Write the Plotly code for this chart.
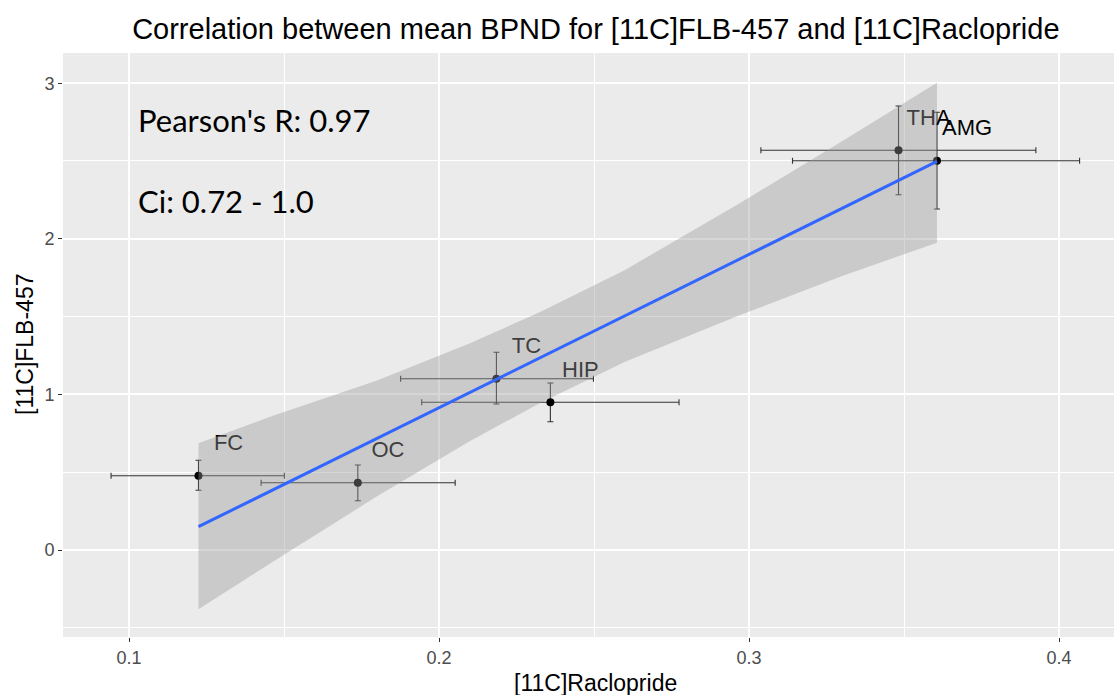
import plotly.graph_objects as go

# ---- data ----
regions = ["FC", "OC", "TC", "HIP", "THA", "AMG"]
rac_mean = [0.1224, 0.1738, 0.2185, 0.2359, 0.3482, 0.3606]
rac_low = [0.0942, 0.1426, 0.1876, 0.1944, 0.3038, 0.3140]
rac_high = [0.1501, 0.2052, 0.2498, 0.2774, 0.3925, 0.4066]
flb_mean = [0.4775, 0.4325, 1.1009, 0.9492, 2.5688, 2.5020]
flb_low = [0.3837, 0.3168, 0.9383, 0.8245, 2.2834, 2.1915]
flb_high = [0.5765, 0.5463, 1.2706, 1.0733, 2.8535, 2.8130]

fit_x = [0.1224, 0.3606]
fit_y = [0.150, 2.497]

band_x = [0.1224, 0.1455, 0.18, 0.21, 0.2326, 0.26, 0.2971, 0.33, 0.3606]
band_upper = [0.686, 0.857, 1.089, 1.328, 1.53, 1.80, 2.230, 2.627, 3.003]
band_lower = [-0.381, -0.086, 0.345, 0.700, 0.945, 1.21, 1.510, 1.761, 1.975]

label_dx = 0.0097
label_dy = 0.2

title_text = "Correlation between mean BPND for [11C]FLB-457 and [11C]Raclopride"
x_title = "[11C]Raclopride"
y_title = "[11C]FLB-457"
stat_lines = ["Pearson's R: 0.97", "Ci: 0.72 - 1.0"]

FONT = "Liberation Sans, Arial"

fig = go.Figure()

# points with error bars
fig.add_trace(go.Scatter(
    x=rac_mean, y=flb_mean, mode="markers",
    marker=dict(color="black", size=8),
    error_x=dict(type="data", symmetric=False,
                 array=[h - m for h, m in zip(rac_high, rac_mean)],
                 arrayminus=[m - l for m, l in zip(rac_mean, rac_low)],
                 color="#333333", thickness=1.1, width=3),
    error_y=dict(type="data", symmetric=False,
                 array=[h - m for h, m in zip(flb_high, flb_mean)],
                 arrayminus=[m - l for m, l in zip(flb_mean, flb_low)],
                 color="#333333", thickness=1.1, width=3),
    showlegend=False, hoverinfo="skip"))

# labels
fig.add_trace(go.Scatter(
    x=[v + label_dx for v in rac_mean], y=[v + label_dy for v in flb_mean],
    mode="text", text=regions, textposition="middle center",
    textfont=dict(family=FONT, size=22, color="black"),
    showlegend=False, hoverinfo="skip"))

# confidence ribbon
fig.add_trace(go.Scatter(
    x=band_x + band_x[::-1], y=band_upper + band_lower[::-1],
    mode="lines", fill="toself", fillcolor="rgba(153,153,153,0.4)",
    line=dict(width=0), showlegend=False, hoverinfo="skip"))

# fit line
fig.add_trace(go.Scatter(
    x=fit_x, y=fit_y, mode="lines",
    line=dict(color="#3366FF", width=3),
    showlegend=False, hoverinfo="skip"))

axis_common = dict(
    showgrid=True, gridcolor="white", gridwidth=1.6,
    zeroline=False, showline=False,
    ticks="outside", ticklen=4, tickwidth=1.1, tickcolor="#333333",
    tickfont=dict(family=FONT, size=18, color="#4D4D4D"),
)

fig.update_layout(
    width=1114, height=695,
    margin=dict(l=63, r=0, t=53, b=58),
    paper_bgcolor="white", plot_bgcolor="#EBEBEB",
    title=dict(text=title_text, x=0.507, xanchor="center", xref="paper",
               y=1 - 29 / 695, yanchor="middle", yref="container",
               font=dict(family=FONT, size=29, color="black")),
    xaxis=dict(range=[0.0787, 0.4177], tickvals=[0.1, 0.2, 0.3, 0.4],
               ticktext=["0.1", "0.2", "0.3", "0.4"], **axis_common,
               minor=dict(showgrid=True, gridcolor="white", gridwidth=0.8,
                          tickvals=[0.15, 0.25, 0.35])),
    yaxis=dict(range=[-0.559, 3.194], tickvals=[0, 1, 2, 3],
               ticktext=["0", "1", "2", "3"], **axis_common,
               minor=dict(showgrid=True, gridcolor="white", gridwidth=0.8,
                          tickvals=[-0.5, 0.5, 1.5, 2.5])),
    font=dict(family=FONT),
)

# axis titles
fig.add_annotation(text=x_title, xref="paper", yref="paper", x=0.507, y=0,
                   yshift=-46, xanchor="center", yanchor="middle", showarrow=False,
                   font=dict(family=FONT, size=23, color="black"))
fig.add_annotation(text=y_title, xref="paper", yref="paper", x=0, y=0.5,
                   xshift=-38, xanchor="center", yanchor="middle", textangle=-90,
                   showarrow=False,
                   font=dict(family=FONT, size=23, color="black"))

# stats text
fig.add_annotation(text=stat_lines[0], xref="x", yref="y", x=0.1023, y=2.763,
                   xanchor="left", yanchor="middle", showarrow=False,
                   font=dict(family="Lato, sans-serif", size=31, color="black"))
fig.add_annotation(text=stat_lines[1], xref="x", yref="y", x=0.1023, y=2.245,
                   xanchor="left", yanchor="middle", showarrow=False,
                   font=dict(family="Lato, sans-serif", size=31, color="black"))

fig.write_html("out.html",
               config={"displayModeBar": False},
               post_script="document.body.style.margin='0';document.body.style.overflow='hidden';")
